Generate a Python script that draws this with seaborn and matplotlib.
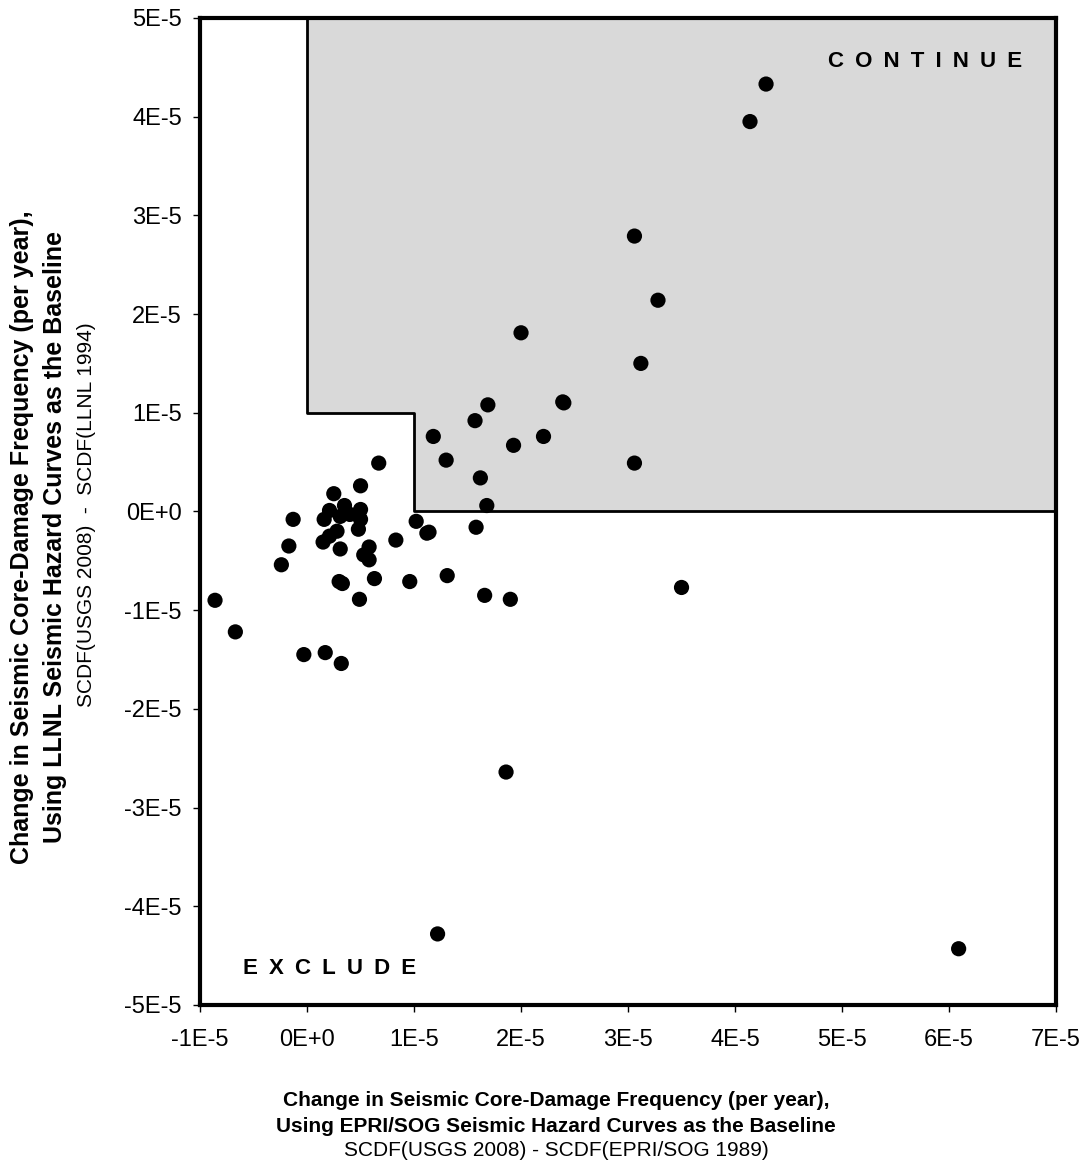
import numpy as np
import pandas as pd
import matplotlib
matplotlib.use("Agg")
import matplotlib.pyplot as plt
import seaborn as sns

# Change in SCDF, units of 1E-5 per year
delta_epri = [-0.86, -0.67, -0.03, 0.17, 0.32, 0.67, 0.50, 0.25, 0.35, 0.21,
              0.50, -0.13, 0.16, 0.31, 0.50, 0.40, 0.48, 0.28, 0.21, 0.15,
              -0.17, 0.31, 0.58, 0.53, 0.58, -0.24, 0.30, 0.33, 0.63, 0.49,
              0.83, 0.96, 1.31, 1.02, 1.14, 1.12, 1.58, 1.66, 1.90, 1.68,
              1.62, 1.30, 1.18, 1.93, 2.21, 1.57, 1.69, 2.40, 2.39, 2.00,
              3.12, 3.28, 3.06, 3.06, 3.50, 4.14, 4.29, 1.86, 1.22, 6.09]
delta_llnl = [-0.90, -1.22, -1.45, -1.43, -1.54, 0.49, 0.26, 0.18, 0.06, 0.01,
              0.02, -0.08, -0.08, -0.05, -0.08, -0.03, -0.18, -0.20, -0.25, -0.31,
              -0.35, -0.38, -0.36, -0.44, -0.49, -0.54, -0.71, -0.73, -0.68, -0.89,
              -0.29, -0.71, -0.65, -0.10, -0.21, -0.22, -0.16, -0.85, -0.89, 0.06,
              0.34, 0.52, 0.76, 0.67, 0.76, 0.92, 1.08, 1.10, 1.11, 1.81,
              1.50, 2.14, 2.79, 0.49, -0.77, 3.95, 4.33, -2.64, -4.28, -4.43]

# screening region ("continue") boundary, units of 1E-5
region_x = [0, 0, 1, 1, 7, 7]
region_y = [5, 1, 1, 0, 0, 5]

xticks = [-1, 0, 1, 2, 3, 4, 5, 6, 7]
xtick_labels = ["-1E-5", "0E+0", "1E-5", "2E-5", "3E-5", "4E-5", "5E-5", "6E-5", "7E-5"]
yticks = [-5, -4, -3, -2, -1, 0, 1, 2, 3, 4, 5]
ytick_labels = ["-5E-5", "-4E-5", "-3E-5", "-2E-5", "-1E-5", "0E+0",
                "1E-5", "2E-5", "3E-5", "4E-5", "5E-5"]

df = pd.DataFrame({"epri": np.array(delta_epri) * 1e-5,
                   "llnl": np.array(delta_llnl) * 1e-5})

sns.set_style("ticks")
plt.rcParams['font.family'] = ['Liberation Sans', 'DejaVu Sans']
plt.rcParams['text.color'] = 'black'

fig = plt.figure(figsize=(10.89, 11.64), dpi=100)
ax = fig.add_axes([0.1837, 0.1366, 0.786, 0.848])

rx = np.array(region_x) * 1e-5
ry = np.array(region_y) * 1e-5
ax.fill(rx, ry, color="#d9d9d9", zorder=1, lw=0)
ax.plot(rx[:5], ry[:5], color="black", lw=2.0, zorder=2)

sns.scatterplot(data=df, x="epri", y="llnl", ax=ax, color="black",
                edgecolor="none", s=120, marker="o", zorder=3, legend=False)

ax.set_xlim(-1e-5, 7e-5)
ax.set_ylim(-5e-5, 5e-5)
ax.set_xticks(np.array(xticks) * 1e-5)
ax.set_xticklabels(xtick_labels)
ax.set_yticks(np.array(yticks) * 1e-5)
ax.set_yticklabels(ytick_labels)
ax.tick_params(direction="out", length=5, width=1, labelsize=17, colors="black")
ax.tick_params(axis="x", pad=12)
ax.tick_params(axis="y", pad=8)
for sp in ax.spines.values():
    sp.set_linewidth(3)
    sp.set_color("black")
ax.set_xlabel("")
ax.set_ylabel("")

sp2 = "\u2002"
ax.text(6.68e-5, 4.56e-5, sp2.join("CONTINUE"), ha="right", va="center",
        fontsize=16, fontweight="bold")
ax.text(0.215e-5, -4.63e-5, sp2.join("EXCLUDE"), ha="center", va="center",
        fontsize=16, fontweight="bold")

# axis titles
cx = 556 / 1089
fig.text(cx, 1 - 1100 / 1164, "Change in Seismic Core-Damage Frequency (per year),",
         ha="center", va="center", fontsize=15, fontweight="bold")
fig.text(cx, 1 - 1126 / 1164, "Using EPRI/SOG Seismic Hazard Curves as the Baseline",
         ha="center", va="center", fontsize=15, fontweight="bold")
fig.text(cx, 1 - 1151 / 1164, "SCDF(USGS 2008) - SCDF(EPRI/SOG 1989)",
         ha="center", va="center", fontsize=15)

fig.text(22 / 1089, 1 - 537 / 1164, "Change in Seismic Core-Damage Frequency (per year),",
         ha="center", va="center", rotation=90, fontsize=18, fontweight="bold")
fig.text(55 / 1089, 1 - 537 / 1164, "Using LLNL Seismic Hazard Curves as the Baseline",
         ha="center", va="center", rotation=90, fontsize=18, fontweight="bold")
fig.text(87 / 1089, 1 - 515 / 1164, "SCDF(USGS 2008)  -  SCDF(LLNL 1994)",
         ha="center", va="center", rotation=90, fontsize=15)

fig.savefig("out.png", dpi=100)
